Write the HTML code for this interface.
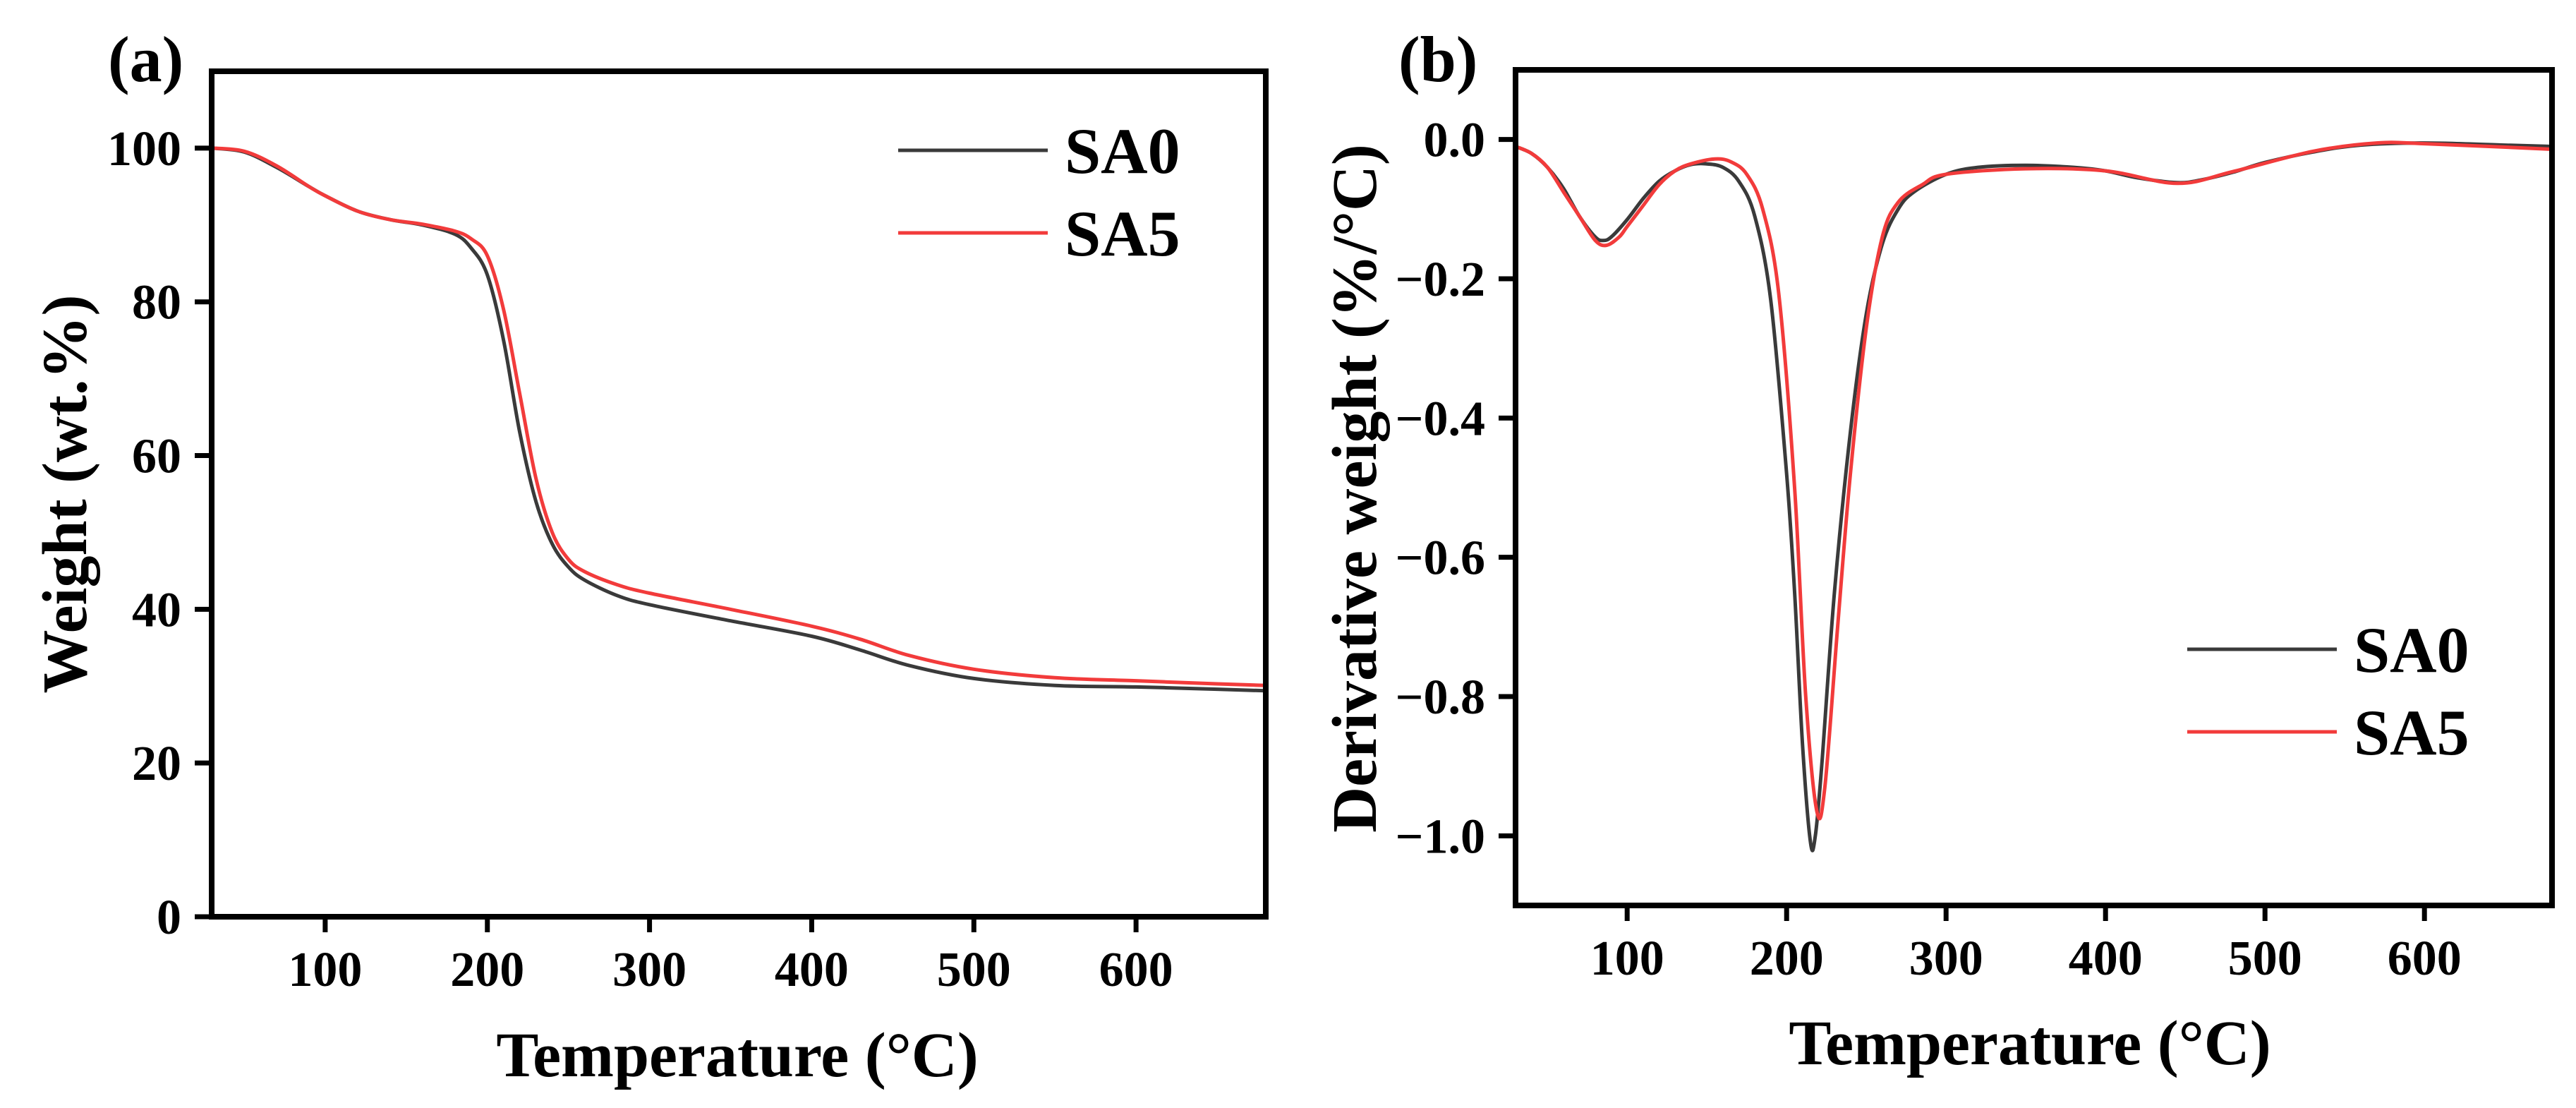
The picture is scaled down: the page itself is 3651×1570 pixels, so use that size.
<!DOCTYPE html>
<html><head><meta charset="utf-8">
<style>
html,body{margin:0;padding:0;background:#fff;}
svg{display:block;}
text{font-family:"Liberation Serif",serif;font-weight:bold;fill:#000;}
</style></head>
<body>
<svg id="chart" width="3651" height="1570" viewBox="0 0 3651 1570" xmlns="http://www.w3.org/2000/svg">
</svg>
<script>
// ---- Data: panel (a) TGA ----
const tgaTemp0 = [30,50,70,90,100,120,140,160,180,190,200,210,220,230,240,250,260,280,300,350,400,430,460,500,550,600,650,680];
const tgaSA0  = [100,99.5,97.5,95,93.8,91.8,90.7,90.0,88.8,87,83.5,75,63,54,48.5,45.5,43.8,41.8,40.6,38.5,36.5,34.7,32.7,31.0,30.1,29.9,29.6,29.4];
const tgaTemp5 = [30,50,70,90,100,120,140,160,180,190,200,210,220,230,240,250,260,280,300,350,400,430,460,500,550,600,650,680];
const tgaSA5  = [100,99.6,97.7,95,93.8,91.8,90.7,90.1,89.2,88.2,86,79,68,57,50,46.5,44.9,43.2,42.1,40.0,37.8,36.1,34.0,32.2,31.1,30.7,30.3,30.1];
// ---- Data: panel (b) DTG ----
const dtgTemp0 = [30,40,50,60,70,80,85,90,100,110,120,130,140,150,160,170,180,190,200,205,210,215,218,222,230,240,250,260,270,280,300,320,350,380,400,420,445,460,480,500,530,560,600,650,680];
const dtgSA0  = [-0.01,-0.02,-0.04,-0.07,-0.11,-0.14,-0.145,-0.14,-0.115,-0.085,-0.06,-0.045,-0.036,-0.035,-0.04,-0.06,-0.11,-0.23,-0.48,-0.65,-0.87,-1.01,-1.0,-0.9,-0.65,-0.42,-0.25,-0.15,-0.1,-0.075,-0.05,-0.04,-0.037,-0.04,-0.045,-0.055,-0.062,-0.058,-0.047,-0.033,-0.018,-0.008,-0.005,-0.008,-0.01];
const dtgTemp5 = [30,40,50,60,70,80,87,95,100,110,120,130,140,155,165,175,185,195,205,212,219,224,232,240,250,260,270,285,300,350,400,445,480,530,570,600,680];
const dtgSA5  = [-0.01,-0.02,-0.04,-0.075,-0.11,-0.145,-0.152,-0.14,-0.125,-0.095,-0.065,-0.045,-0.035,-0.028,-0.032,-0.05,-0.1,-0.22,-0.5,-0.8,-0.965,-0.93,-0.7,-0.48,-0.27,-0.14,-0.09,-0.065,-0.05,-0.042,-0.045,-0.063,-0.046,-0.017,-0.005,-0.006,-0.014];
// ---- Ticks ----
const xTicks = [100,200,300,400,500,600];
const yTicksA = [0,20,40,60,80,100];
const yTicksB = [0.0,-0.2,-0.4,-0.6,-0.8,-1.0];
const seriesNames = ["SA0","SA5"];

const NS = "http://www.w3.org/2000/svg";
const svg = document.getElementById('chart');
function el(tag, attrs, parent){
  const e = document.createElementNS(NS, tag);
  for (const k in attrs) e.setAttribute(k, attrs[k]);
  (parent||svg).appendChild(e);
  return e;
}
function smoothPath(xs, ys){
  let d = "M" + xs[0].toFixed(1) + "," + ys[0].toFixed(1);
  for (let i=0;i<xs.length-1;i++){
    const x0 = xs[Math.max(i-1,0)], y0 = ys[Math.max(i-1,0)];
    const x1 = xs[i], y1 = ys[i], x2 = xs[i+1], y2 = ys[i+1];
    const x3 = xs[Math.min(i+2,xs.length-1)], y3 = ys[Math.min(i+2,xs.length-1)];
    const c1x = x1 + (x2-x0)/6, c1y = y1 + (y2-y0)/6;
    const c2x = x2 - (x3-x1)/6, c2y = y2 - (y3-y1)/6;
    d += " C" + c1x.toFixed(1)+","+c1y.toFixed(1)+" "+c2x.toFixed(1)+","+c2y.toFixed(1)+" "+x2.toFixed(1)+","+y2.toFixed(1);
  }
  return d;
}

function panel(cfg){
  const g = el('g', {});
  
  
  const sx = v => cfg.L + (v - cfg.xmin) / (cfg.xmax - cfg.xmin) * (cfg.R - cfg.L);
  const sy = v => cfg.B - (v - cfg.ymin) / (cfg.ymax - cfg.ymin) * (cfg.B - cfg.T);
  const cid = cfg.name + '-clip';
  const cp = el('clipPath', {id: cid}, g);
  el('rect', {x: cfg.L, y: cfg.T, width: cfg.R-cfg.L, height: cfg.B-cfg.T}, cp);
  const colors = ['#3a3a3a', '#f23b3b'];
  cfg.series.forEach((s, i) => {
    const p = el('path', {d: smoothPath(s.x.map(sx), s.y.map(sy)), fill:'none', stroke: colors[i], 'stroke-width': 5, 'stroke-linejoin':'round', 'clip-path': 'url(#'+cid+')'}, g);
    
    
  });
  const fr = el('rect', {x: cfg.L, y: cfg.T, width: cfg.R-cfg.L, height: cfg.B-cfg.T, fill:'none', stroke:'#000', 'stroke-width': 8}, g);
  
  
  xTicks.forEach(t => {
    const x = sx(t);
    const tk = el('line', {x1:x, x2:x, y1:cfg.B, y2:cfg.B+22, stroke:'#000', 'stroke-width':7}, g);
    
    
    const tl = el('text', {x:x, y:cfg.xLabelY, 'text-anchor':'middle', 'font-size':70}, g);
    tl.textContent = t;
    
    
  });
  cfg.yTicks.forEach(t => {
    const y = sy(t);
    const tk = el('line', {x1:cfg.L-24, x2:cfg.L, y1:y, y2:y, stroke:'#000', 'stroke-width':7}, g);
    
    
    const tl = el('text', {x:cfg.L-43, y:y+24, 'text-anchor':'end', 'font-size':70}, g);
    tl.textContent = cfg.fmt(t);
    
    
  });
  const xt = el('text', {x:cfg.xTitleX, y:cfg.xTitleY, 'text-anchor':'middle', 'font-size':90}, g);
  xt.textContent = 'Temperature (°C)';
  
  
  const yt = el('text', {x:0, y:0, 'text-anchor':'middle', 'font-size':90, transform:'translate('+cfg.yTitleX+','+cfg.yTitleY+') rotate(-90)'}, g);
  yt.textContent = cfg.yTitle;
  
  
  const pl = el('text', {x:cfg.labelX, y:115, 'font-size':92}, g);
  pl.textContent = cfg.label;
  
  
  seriesNames.forEach((n, i) => {
    const ly = cfg.legY + i*117;
    const ll = el('line', {x1:cfg.legX, x2:cfg.legX+212, y1:ly, y2:ly, stroke:colors[i], 'stroke-width':5}, g);
    
    
    const lt = el('text', {x:cfg.legX+236, y:ly+32, 'font-size':92}, g);
    lt.textContent = n;
    
    
  });
}

panel({name:'panel-a-tga', L:300, R:1794, T:101, B:1299, xmin:30, xmax:680, ymin:0, ymax:110,
  series:[{x:tgaTemp0,y:tgaSA0},{x:tgaTemp5,y:tgaSA5}], yTicks:yTicksA, fmt:t=>String(t),
  xLabelY:1397, xTitleX:1045, xTitleY:1525, yTitle:'Weight (wt.%)', yTitleX:122, yTitleY:700,
  label:'(a)', labelX:153, legX:1273, legY:213});
panel({name:'panel-b-dtg', L:2148, R:3617, T:99, B:1283, xmin:30, xmax:680, ymin:-1.1, ymax:0.1,
  series:[{x:dtgTemp0,y:dtgSA0},{x:dtgTemp5,y:dtgSA5}], yTicks:yTicksB, fmt:t=>(t<0?'\u2212':'')+Math.abs(t).toFixed(1),
  xLabelY:1381, xTitleX:2877, xTitleY:1508, yTitle:'Derivative weight (%/°C)', yTitleX:1950, yTitleY:692,
  label:'(b)', labelX:1982, legX:3100, legY:920});
</script>
</body></html>
